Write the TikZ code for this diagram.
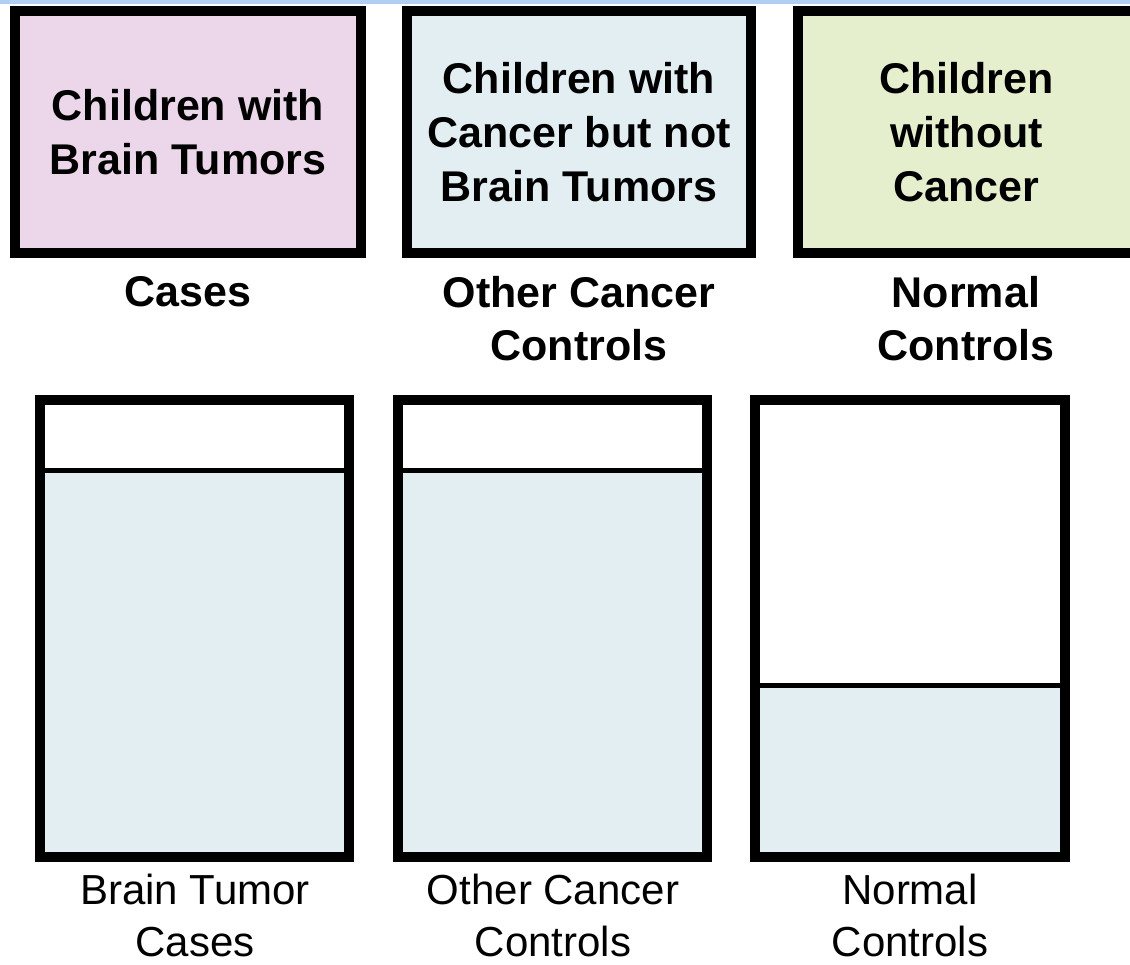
\documentclass[tikz,border=0pt]{standalone}
\usepackage{fontspec}
\setmainfont{Liberation Sans}

\definecolor{pinkfill}{RGB}{236,214,234}
\definecolor{bluefill}{RGB}{226,238,242}
\definecolor{greenfill}{RGB}{229,238,205}
\definecolor{stripblue}{RGB}{178,206,242}

\tikzset{
  group/.style={draw, line width=10pt, minimum height=242pt, inner sep=0pt,
    align=center, font=\fontsize{43}{54}\selectfont\bfseries},
  grouplabel/.style={anchor=north, inner sep=0pt, align=center,
    font=\fontsize{43}{53}\selectfont\bfseries},
  barlabel/.style={anchor=north, inner sep=0pt, align=center,
    font=\fontsize{42}{52}\selectfont},
  bar/.style={line width=10pt},
  level/.style={line width=5pt}
}

\begin{document}
\begin{tikzpicture}[x=1pt,y=-1pt]
\clip (0,0) rectangle (1130,964);
\fill[white] (0,0) rectangle (1130,964);
\fill[stripblue] (0,0) rectangle (1130,4);

% the three groups of children
\node[group, fill=pinkfill, minimum width=346pt] (tumors) at (188,132) {Children with\\Brain Tumors};
\node[group, fill=bluefill, minimum width=344pt] (othercancer) at (579,132) {Children with\\Cancer but not\\Brain Tumors};
\node[group, fill=greenfill, minimum width=337pt] (nocancer) at (966.5,132) {Children\\without\\Cancer};

\node[grouplabel] (caseslabel) at (188,276) {Cases};
\node[grouplabel] (otherlabel) at (579,276) {Other Cancer\\Controls};
\node[grouplabel] (normallabel) at (966,276) {Normal\\Controls};

% bars
\fill[bluefill] (40,470) rectangle (349,857);
\draw[level] (40,470) -- (349,470);
\draw[bar] (40,400) rectangle (349,857);

\fill[bluefill] (398,470) rectangle (707,857);
\draw[level] (398,470) -- (707,470);
\draw[bar] (398,400) rectangle (707,857);

\fill[bluefill] (755,685) rectangle (1065,857);
\draw[level] (755,685) -- (1065,685);
\draw[bar] (755,400) rectangle (1065,857);

\node[barlabel] (tumorbarlabel) at (195,874) {Brain Tumor\\Cases};
\node[barlabel] (otherbarlabel) at (553,874) {Other Cancer\\Controls};
\node[barlabel] (normalbarlabel) at (910,874) {Normal\\Controls};
\end{tikzpicture}
\end{document}
